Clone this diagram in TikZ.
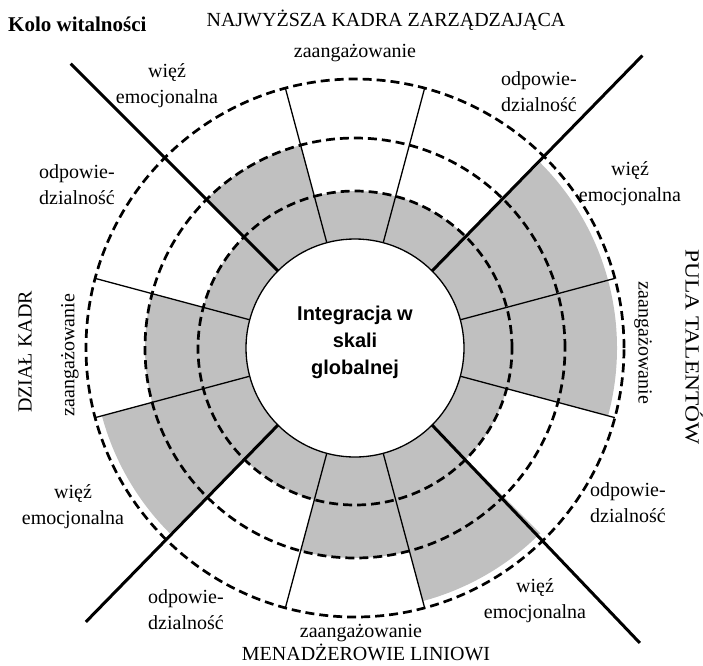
\documentclass[tikz,border=0pt]{standalone}
\usepackage{graphicx}
\usepackage{fontspec}
\setmainfont{Liberation Serif}
\newfontfamily\centerfont{Liberation Sans}
\definecolor{sectorgray}{RGB}{192,192,192}
\begin{document}
\begin{tikzpicture}[x=1pt,y=1pt,
  lbl/.style={font=\fontsize{20}{26}\selectfont, align=center, inner sep=0pt},
  captext/.style={font=\fontsize{20}{24}\selectfont, inner sep=0pt},
  dashring/.style={line width=2.7pt, dash pattern=on 9pt off 5pt},
  heavy/.style={line width=3pt},
  divider/.style={line width=1.3pt},
  sector/.style={fill=sectorgray}]
\useasboundingbox (0,0) rectangle (703,-665);
\begin{scope}[shift={(355,-348)}]
  % outer ring shading
  \path[sector] (0,0) -- (-15:262) arc[start angle=-15,end angle=45,radius=262] -- cycle;
  \path[sector] (0,0) -- (195:262) arc[start angle=195,end angle=225,radius=262] -- cycle;
  \path[sector] (0,0) -- (285:262) arc[start angle=285,end angle=315,radius=262] -- cycle;
  % middle ring shading
  \path[sector] (0,0) -- (105:210) arc[start angle=105,end angle=135,radius=210] -- cycle;
  \path[sector] (0,0) -- (165:210) arc[start angle=165,end angle=195,radius=210] -- cycle;
  \path[sector] (0,0) -- (255:210) arc[start angle=255,end angle=285,radius=210] -- cycle;
  % inner ring shading
  \path[sector] (0,0) circle[radius=157];
  % thin dividers
  \foreach \a in {15,75,105,165,195,255,285,345}
    \draw[divider] (\a:109) -- (\a:269);
  % dashed rings
  \draw[dashring] (0,0) circle[radius=157];
  \draw[dashring] (0,0) circle[radius=210];
  \draw[dashring] (0,0) circle[radius=269];
  % heavy dividers
  \coordinate (ne) at (45.5:410);
  \coordinate (nw) at (135:402);
  \coordinate (sw) at (225.5:384);
  \coordinate (se) at (314:410);
  \draw[heavy] (45:109) -- (ne);
  \draw[heavy] (135:109) -- (nw);
  \draw[heavy] (225:109) -- (sw);
  \draw[heavy] (315:109) -- (se);
  % hub
  \draw[divider, fill=white] (0,0) circle[radius=109];
\end{scope}
\node[inner sep=0pt, align=center, font=\centerfont\bfseries\fontsize{20}{27}\selectfont] (hub) at (355,-342) {Integracja w\\skali\\globalnej};
% title and captions
\node[anchor=west, inner sep=0pt, font=\bfseries\fontsize{21}{24}\selectfont] (title) at (8,-24) {Kolo witalności};
\node[captext] (top) at (386,-20) {NAJWYŻSZA KADRA ZARZĄDZAJĄCA};
\node[captext] (bottom) at (366,-652) {MENADŻEROWIE LINIOWI};
\node[captext, rotate=90] (left) at (25,-352) {DZIAŁ KADR};
\node[captext, rotate=-90] (right) at (694,-347) {\scalebox{1.17}[1]{PULA TALENTÓW}};
% sector labels
\node[lbl] (t1) at (355,-53) {zaangażowanie};
\node[lbl] (t2) at (167,-86) {więź\\emocjonalna};
\node[lbl] (t3) at (539,-92) {odpowie-\\dzialność};
\node[lbl] (l1) at (77,-185) {odpowie-\\dzialność};
\node[lbl, rotate=90] (l2) at (70,-355) {zaangażowanie};
\node[lbl] (l3) at (73,-507) {więź\\emocjonalna};
\node[lbl] (r1) at (630,-184) {więź\\emocjonalna};
\node[lbl, rotate=-90] (r2) at (643,-343) {zaangażowanie};
\node[lbl] (r3) at (628,-503) {odpowie-\\dzialność};
\node[lbl] (b1) at (186,-610) {odpowie-\\dzialność};
\node[lbl] (b2) at (361,-633) {zaangażowanie};
\node[lbl] (b3) at (535,-601) {więź\\emocjonalna};
\end{tikzpicture}
\end{document}
